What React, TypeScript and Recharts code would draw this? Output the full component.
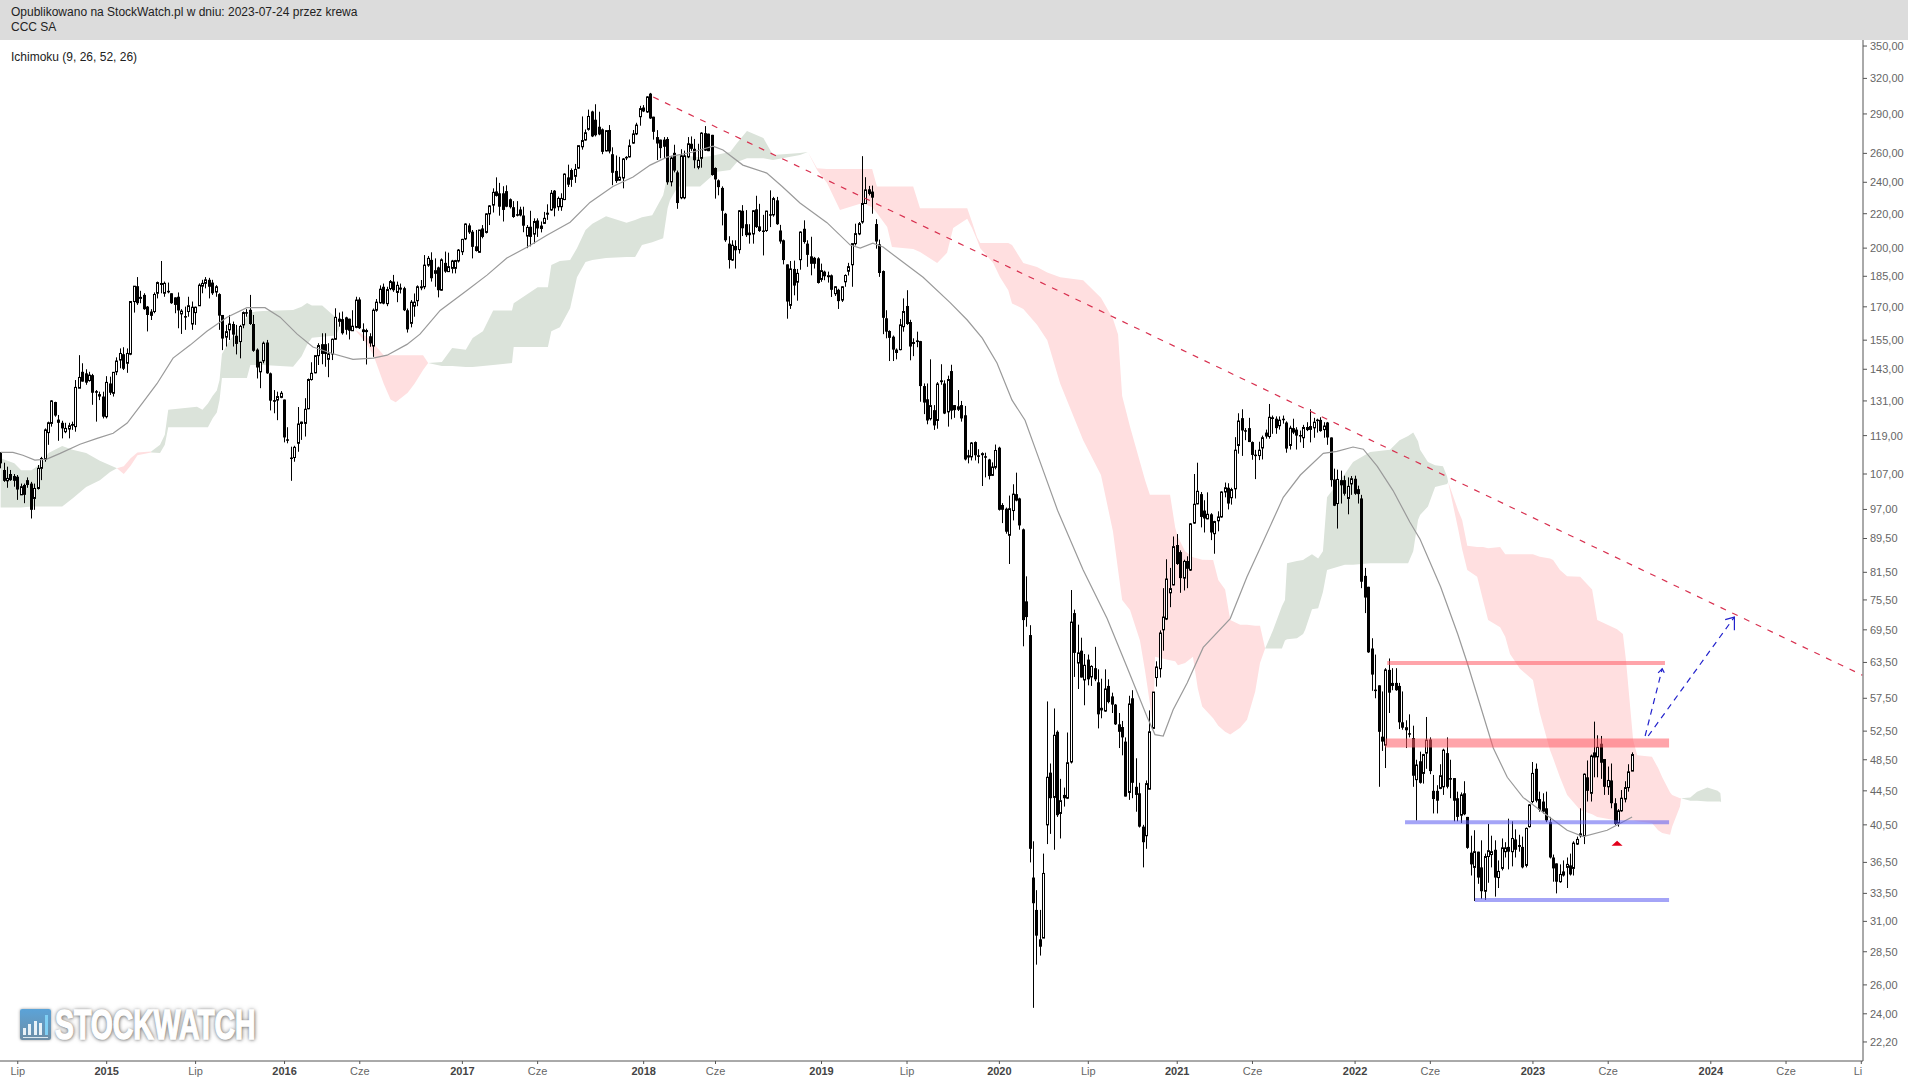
import React from 'react';
import { ComposedChart, Area, Bar, Line, XAxis, YAxis, ReferenceLine, ReferenceDot } from 'recharts';

// weekly candles, [open, high, low, close], first candle = week 0
const candles2014 = [
  [113.7,113.7,108.7,110.2],[108.2,110.4,104.7,105],[105,109.2,103,105.7],[107,108.2,105,105.2],[106.4,107,103.3,105],
  [106.2,106.7,99.6,102.5],[101,104.2,101,103.3],[103.8,104.2,98.7,101],[105.2,106,103,103.8],[104.2,104.7,94.6,96.9],
  [100,104.2,96.9,102.8],[102.8,109.7,102.5,108.7],[108.7,112.2,105.2,111.7],[111.4,121.4,110.7,120.9],[120,123.7,116,123.3],
  [123.1,131.3,122,131],[130.6,130.7,125.4,125.8],[124.4,126,117.3,123.3],[123.3,124,118.1,121.4],[120.3,123.3,119.8,121.4],
  [121.2,123.3,118.1,122.3],[122.9,123.7,120.9,122.3],[122,138.8,120.3,136],[135.7,148.7,135.7,139.8],[142,145.4,138.2,138.2],
  [141.4,143,137,137.8],[138.6,142,138.2,140.7],[140.7,141.2,129.6,134],[134.6,135,123.7,134],[133.5,134.4,131.3,132.6],
  [132.6,134.4,124.8,125.4],
];
const candles2015 = [
  [125.4,140.3,124.8,137.9],[137.5,140.1,133.2,134],[133.8,141.8,132.6,141.8],[142,147.8,140.7,146.3],[146.7,151.5,143.4,149.4],
  [149.1,152,142.7,143.2],[145.4,151.5,141.6,149.4],[149.1,172.5,148.7,172.5],[172.5,180,167.3,180],[180,184.6,170.9,171.7],
  [174.3,177.7,171.7,174.5],[175.7,176.5,168.6,168.9],[170.1,170.4,158.8,166.2],[167.8,168.9,163.9,165.8],[167.8,176.9,167,175.9],
  [176.5,182.3,174,181.8],[181.6,193,176.5,180.6],[176.5,182.3,174.8,181.4],[177.7,181.8,176.5,177.4],[176.5,176.5,171.4,171.7],
  [174.5,174.5,167,170.9],[174.8,176.9,160.2,168.3],[166.7,168.9,157.7,168],[165.7,170.1,159.5,165.1],[167.8,174.8,165.4,170.5],
  [162.1,172.5,159.5,169.8],[167.3,170.1,161.7,169.8],[170.5,181.4,170.5,180.5],[180,183.2,176.5,181.4],[181.4,184.6,178.9,183.2],
  [183.2,184.2,174,179.7],[181.8,183.2,175.7,176.5],[177.1,180.5,174.8,179.7],[176.1,176.5,159.5,165.9],[166.2,166.2,150.8,155.7],
  [156.3,161.7,152.3,158.7],[159.5,166.2,155.1,162.1],[162.1,163.2,152.3,157.4],[156.9,161.7,149,153.4],[154.4,161.7,147.4,161],
  [161.7,167.8,160.2,167.3],[167.5,168.9,165.4,167.3],[168.6,175.7,161.7,162.1],[162.1,166.2,150.1,150.5],[151,151.5,139.4,143.7],
  [142,146,135.7,145.8],[146.4,154.4,145.4,153.7],[154,155.1,141.2,141.4],[141.4,141.7,127.6,131.1],[131.3,135,126.6,130.7],
  [131.3,134.4,124.2,132.6],[132.3,134.6,132,133.8],
];
const candles2016 = [
  [131.5,131.5,116.8,118.4],[117.8,121.8,116.5,117.4],[112,115.4,105,111.6],[112,115.7,110.7,115.2],[116.5,128.8,113.8,122.9],
  [123.7,123.7,117.6,122.9],[123.1,132,118.7,128],[128.2,139.4,128,139],[139,145.8,138.6,141.4],[141.6,148.5,141.4,148.5],
  [148.5,153.7,144.7,152.7],[153.3,158,145,149.2],[153.3,158,144,149.2],[147,153.7,139.9,149.2],[149.2,155.7,146.7,155.4],
  [155.4,169.3,155.1,165.1],[163.3,167.3,160.9,164.3],[164.3,167.8,157.4,158],[165.1,165.4,157.4,159.5],[164.5,164.5,155.3,159.1],
  [159.1,168.4,159.1,161.1],[160.6,174.8,160.2,173.2],[173.5,174.5,159.9,160.2],[159.7,162.4,154.7,158.5],[159.4,160,144.9,158.5],
  [156.7,158,152.2,153.6],[152.5,169.2,148,168.4],[168.4,173.7,167.7,172.2],[171.9,180.4,171.5,178.5],[179.7,181.3,171.2,171.5],
  [171.5,179.7,170.3,178.3],[178.8,183.1,178,182.3],[182.3,185.7,177.2,178],[176.9,182.3,172.2,180.4],[179.3,181.3,176.4,178.3],
  [179,179.7,168,168.4],[168.4,169.2,158.3,159.7],[162.4,173.2,160.6,172.2],[170.3,176.4,165.4,172.2],[172.9,180.4,170.3,179.7],
  [179.4,183.1,178,179.7],[179.7,196.2,178.5,190.8],[190.8,195.7,189.9,194.4],[193.6,197.7,182.3,184],[186.5,194.4,179.7,187.9],
  [189.6,190,174.5,178],[178,194.4,177.7,193.6],[192,198.1,186.8,187.4],[187.4,197.5,187.2,190],[189.1,193.6,186.5,193],
  [189.1,193.6,186.5,193.2],[193,199.5,192.2,198.9],
];
const candles2017 = [
  [198,205.2,196.2,204.9],[205.2,214.2,204.5,213.8],[213,214.2,208,208.9],[209.3,210.3,194.4,200.7],[201,210.3,198.1,198.4],
  [197.7,210.3,197.5,210.3],[211.2,213.2,205.5,206.3],[208.9,220.3,208.3,219.9],[219.9,225.3,213.2,224.8],[225.3,236,220.7,233.4],
  [234,243.3,230.7,231.1],[232.8,239.6,218.8,224.3],[232.8,237.4,215.3,222.3],[234.2,238,224,224.3],[229,229.5,223.2,224],
  [224,227.8,217.5,218],[219.7,227.8,218.4,219.3],[222.6,224.3,218.4,218.9],[218.9,224.3,209,212.8],[206.8,213.2,200,211.8],
  [212.2,221.8,201,206.3],[207.9,217.2,202.6,215.3],[215.9,217.2,206.3,211.2],[211.2,215.3,208.9,212.6],[214.2,221.1,213.8,217.2],
  [220,225.8,216.3,220.3],[222.3,234.9,221.8,232.8],[234.5,234.9,218.4,223.3],[224.3,230.7,221.8,229.5],[224.3,232.8,221.8,229.5],
  [228.8,246,228.4,245.5],[243.3,252,236.9,238.4],[248.3,249.4,237,241.6],[244,252.5,239.6,248.7],[249.6,265.6,249,265.6],
  [264.8,288,262.7,269.4],[269.8,277.8,269.3,275.3],[277.9,293.5,276.9,288],[292,292.6,272,272.5],[285.4,297.9,272.5,273.4],
  [279.9,291.8,273.4,274],[277.9,278.6,259.4,261.1],[261.8,276.9,261.4,276.9],[277.4,281.2,260,261.4],[259.4,264.4,238.1,246.4],
  [247.7,258.5,239.6,240.8],[241.4,257.5,241,243.4],[242.9,256.6,236,256],[257.5,258,255.2,256.6],[257.5,270.2,257,265.5],
  [267.5,277.4,267,274.4],[274.4,283,273.5,281.2],[287.8,296.6,280.7,294.3],
];
const candles2018 = [
  [295.2,297.2,291.5,292],[291.6,304.6,290.9,304],[306.8,307.4,286,286.4],[287.8,287.8,270.1,276],[272,277.3,255.3,267.2],
  [270.1,270.1,256.5,263.8],[270.1,272,256.5,264.8],[270.6,272,238.4,240],[240.3,258.2,237.3,256.6],[260.4,266.3,246.7,247.9],
  [246.7,247.9,223,226.6],[229.9,263,229,258.2],[229.9,262,229,258.2],[257.5,272,256.6,267],[267,272.5,261.8,263.3],
  [263.3,270.6,249.5,255.1],[250.2,267,248.8,255.1],[256.5,275.7,249.9,275],[275,280.4,261.8,262],[274.6,274.6,261.6,261.6],
  [273.7,273.7,244.4,244.9],[249.7,250.1,229.4,241.9],[241.3,241.9,231.5,236.8],[236.3,237.3,213,221.8],[220,220.5,203.5,204.4],
  [202.5,206.7,189,193.5],[193.5,204.4,193,201.6],[201.2,204.4,189,198.8],[199.2,222.2,197,221.8],[221.8,225.3,206.8,211.3],
  [213.7,222.2,206.3,207.3],[208.8,213.7,202.5,207.3],[208,222.2,202.5,221.8],[222.7,231.2,211.5,212],[212.4,226.1,209.2,209.7],
  [210,219.3,196,209.7],[210,221.8,209.2,221.6],[219.7,234.7,212,219.3],[219.3,230.5,218.2,229.4],[228.3,230.5,213.3,213.7],
  [210,213.3,202.5,203.7],[204.4,204.8,191.2,193.5],[191.2,191.2,164.5,172.5],[170.7,193,169,188.8],[188.8,193.2,175.5,180.3],
  [182,188.8,172.9,186.5],[193.7,209.5,188.4,209.1],[211,216,202.5,203.4],[202.5,204.4,189.9,196.3],[195.5,206.4,185.5,191.5],
  [194.7,195.2,189,191.5],[194.4,195,181.3,181.6],
];
const candles2019 = [
  [183.4,191.6,182.2,187.9],[187.4,187.9,183,185],[185,187.4,181.8,185.3],[185.5,185.9,174.7,178.2],[176.3,180,175.2,179.7],
  [178.2,178.7,169,172.7],[173.2,180,172.3,179.7],[182.2,186,179.7,185.4],[187.6,192,185.4,190],[191,202.5,179.7,202.5],
  [202.5,214,201.5,208.2],[208,215,207.3,214],[215,258,214,226.3],[226.3,243.4,226,235],[235.4,237.6,231.4,232.4],
  [233.9,237.8,220,230],[213.8,216.7,199.7,203.7],[202.1,204.8,184.7,186.7],[187.7,188,157.6,164.9],[164.7,168.4,155.8,158.7],
  [159,159.3,146.3,156],[156.5,157,146.3,151],[151,151.5,147,149.6],[151,164.4,150.7,161.7],[160.9,174,158.7,167.8],
  [170.4,178,161.7,162.1],[163,164,146.6,152.3],[154.2,155.8,148.3,153.4],[154.9,158.7,152,154.2],[154.6,154.7,130.7,136.5],
  [136.5,137.5,126.3,130.4],[131.6,137.5,122.8,124.1],[124.7,147,124.1,129.3],[127.7,129.5,120.9,122.4],[124.1,138,121.3,137.3],
  [138.7,145,137,138],[137.5,138.7,126.3,126.5],[127.1,140.5,122,139],[142.3,144.8,124.5,127.5],[129.5,129.5,125,127.7],
  [128,135,127.4,128.9],[129.5,131,123.7,124.8],[125.9,129.2,111.1,111.4],[112.7,114.4,110.2,112],[112.2,116.9,111.1,116.6],
  [116.9,117.1,111.1,112.7],[112.7,114.6,110.2,112.2],[113,113.6,103.5,113.2],[112.4,113.5,106,112],[111.4,111.6,105.4,106.4],
  [106.6,110.5,106.4,109.1],[109,116.1,108.4,114.2],
];
const candles2020 = [
  [115.1,115.4,96.7,96.9],[98.2,98.7,93.4,96.9],[97.2,97.5,90.7,91.2],[90.3,100.8,83.4,97.2],[96.7,104,94.1,101.2],
  [101.2,107.4,99.2,99.4],[100,100.2,91.7,92.8],[91.8,92,66.4,71.4],[75.2,80.6,70.1,72],[68.5,70.4,36.5,37.9],
  [35,38.7,24.4,32.6],[32,33.8,27.5,29.8],[29.5,32,28.2,28.9],[29.6,37.4,29.6,35.4],[40.5,57,38.4,46.2],
  [46.8,48,39.5,43.6],[43.7,55.9,37.8,51.9],[52.4,52.6,41.4,41.6],[41.8,46,39,43.3],[44,44.9,42.6,43.6],
  [43.6,52.3,43.5,48.1],[48.2,77.6,48,71],[72.8,73.5,61,65.2],[63.4,70.5,59,65.2],[65.6,68,60.9,60.9],
  [60.5,65,56.4,63],[64,64.9,59.6,60.6],[61,63,59.5,62.8],[62.5,66.3,60.3,60.6],[60.1,62.3,52.9,55],
  [56,60.7,54.4,55.6],[55.5,62.3,55.4,59],[59.5,60.6,56.7,56.9],[57.8,58.4,55.2,56.5],[56.5,56.6,53.4,53.5],
  [53.5,55.2,50.1,52.4],[53.1,54,49.1,51.6],[51,51.6,43.8,43.8],[44.3,57.9,43.4,56.6],[57.5,58.8,43.6,45.5],
  [45,48.7,42,44],[44.2,45.5,40.2,40.3],[40.3,40.5,36,38.6],[39.3,45.8,37.9,45.4],[44.7,55.6,44.7,52.4],
  [52.9,58.5,52.9,58.5],[60.9,63.7,59.4,62.7],[62.4,69.4,60.9,68.9],[69.5,78,65.6,72],[71.6,84.5,71.4,80],
  [77,82.5,74,77.9],[78.7,90,78.6,87.5],
];
const candles2021 = [
  [87.9,90.6,83.2,83.4],[86.2,86.6,77,80.2],[80.2,84.4,77.5,84],[84.1,85.2,78,82.3],[82,93.4,81.8,93.2],
  [93.4,107,93.2,98.4],[98.5,110.4,98.4,102],[101.2,101.8,92.3,95],[96.7,99.5,91,94.6],[94.5,101.7,94.4,95.7],
  [95.7,96,89.1,91],[90.7,94,85.8,93.8],[94,96.5,91.3,95],[95,102,94.8,101.8],[101.8,104.5,100.3,103],
  [103,104.3,97,98.6],[100.2,103,98.3,102.5],[102.7,118.5,100,114.3],[115.8,126.6,113.2,123.9],[124.9,128,112.5,120.7],
  [120.8,121.5,117.5,120.5],[121.5,125,116.9,116.9],[116.9,117.1,111.3,112.8],[112.9,114.4,105.5,112.5],[112.6,117,111.2,114.3],
  [115,119,111.4,118.3],[120,121,118,118.7],[118.7,129.9,118,125.2],[125.2,125.8,119.6,124.6],[124.7,125.5,119.6,121.5],
  [122.3,125.5,121,124.2],[124.7,125.8,123,124.2],[123.4,123.8,113.5,114.8],[115.8,122.3,114.5,121.5],[121.5,124.7,119.5,120],
  [121,121.8,114.5,119],[119.2,120.7,116.8,118.8],[118.3,122.6,115,121.7],[121,123.5,120.5,121.7],[122.2,128,116.8,120.9],
  [121.6,125,118.3,123.5],[124.4,124.7,120,124.2],[124.3,125.2,120.3,120.5],[121,123.5,118.3,122.2],[123.4,123.6,116,118.4],
  [118.4,118.4,103.3,105.2],[105.4,108.6,97.9,98],[98.6,108.3,92,105.4],[105.2,108,98.6,103.7],[105.2,106.5,100.8,101.3],
  [100,106,95.7,103.4],[104.1,106.4,101,105.6],
];
const candles2022 = [
  [105.6,106.5,101,101.3],[102.6,103.6,98.6,101.2],[100,101,78,79.4],[80.7,82.5,72.8,76],[78.3,78.3,65.2,65.3],
  [66,67.9,58.7,61.4],[58.9,64.9,57.5,58.8],[59.6,59.6,45,52.4],[51.7,58.6,49.7,51],[50.5,62.5,47.4,62.2],
  [62.2,64.2,55.2,58.4],[60,62.5,58.8,59.5],[60,62.5,58.7,58.8],[59.5,60,52.8,53.8],[53.8,58.6,52.7,53],
  [52.7,54.1,50.1,53],[52.2,55,51.6,52],[51.5,53.3,45,46.4],[45.9,48.5,41,47.8],[48.3,49.6,45.4,45.5],
  [46.7,49.3,45.4,49.2],[49.4,54.6,47.3,51.2],[51.3,51.6,46.6,47],[44.5,46.5,41.8,43.5],[44.5,45.2,41.8,43.3],
  [44.8,47.9,44.7,46.4],[45,50,44,49.8],[49.4,51.6,44.8,45],[46.1,48.5,43.6,45.9],[46.1,46.1,40.9,43.3],
  [43.6,44.4,40.9,41.4],[41.6,44.3,40.7,44],[44.2,45.7,41.6,41.7],[41.4,41.4,37.9,38],[37.5,39.3,35.2,36.3],
  [36,39.9,32.8,37.6],[37.6,37.6,34.4,35],[36,38.8,33,33.7],[33.7,37.4,32.9,37.1],[37.1,40.6,34.5,37.7],
  [37.3,39.3,36,37.6],[37.8,38.8,33.2,35],[35,36.7,34,35.6],[35.9,39,35.7,38],[37.6,38.6,37,38],
  [38.1,41.2,35.8,37.6],[37.6,40.9,36.1,39],[38.9,40,37,37.8],[38.3,39.4,37.6,38.1],[38.1,39.2,35.9,36],
  [36.2,40.2,36,40.1],[40.3,42.9,40.2,42.8],
];
const candles2023 = [
  [43.2,48.2,43,46.7],[47.3,48,43.1,43.3],[43.5,44.4,42,42.2],[43.2,44.2,41.8,42],[42.4,44.4,40.8,41],
  [40.8,41.4,36.9,37],[37,37.3,34.6,35.9],[36.4,36.4,33.5,34.6],[34.6,36.3,34.5,35.3],[35.6,36.7,35.1,35.2],
  [36,37,34,36.3],[36.2,37.4,35.2,35.3],[35.9,38.7,35.2,38.5],[38.4,39.2,38.3,38.9],[39.3,42.4,39.1,39.5],
  [39.3,46.7,38.4,46.6],[46.2,48.4,43.2,44.5],[44.2,49.2,43.2,49],[49.5,53.9,46.2,48.8],[48.9,51.9,46.2,50.2],
  [50.7,51.8,46,48.1],[48.6,48.6,44,45],[45,47.6,44,45.8],[45.8,48,42.4,43],[43,43.6,40.5,40.6],
  [40.7,42.3,40.3,42.1],[42.1,44.6,42,43.6],[43.5,45.7,43.1,44.9],[44.9,47.9,44.4,46.9],[47,49.5,47,49.2],
];

// ichimoku cloud, read edge by edge
const greenWeeks1 = [0,4,6,9,12,14,18,21,25,29,32,34];
const greenLow1 = [97.5,97.5,97.5,97.8,97.8,97.8,97.8,100,103.2,105.2,107.6,108.7];
const greenHigh1 = [111.8,110.2,108.1,108.1,110.2,113.4,115.6,114.4,113.4,111,109.6,108.7];

const pinkWeeks1 = [34,36,38,40,44];
const pinkLow1 = [108.7,107,109.5,112.7,113.6];
const pinkHigh1 = [108.7,109.3,111.8,113.6,113.9];

const greenWeeks2 = [44,46.6,48,49,57.4,59,60.6,62,63.2,64,64.7,67,72,73,76.7,85.5,88,89.6,91,94,98,99];
const greenLow2 = [113.6,113.4,116,121.8,121.8,121.8,121.8,124.9,126.9,131.3,139.6,139.6,139.6,144.7,144.7,144,148.3,153,156,156.5,157,160];
const greenHigh2 = [113.9,116,119.3,127.8,128.9,127.8,130.1,132.9,134.8,138.8,149.2,155,165.4,167.5,168,168.5,170,171.8,170.6,170.6,165,160];

const pinkWeeks2 = [99,103.6,107,109,112,114,115.5,119,121,123.5,125];
const pinkLow2 = [160,159.5,153.6,148.7,137.4,131.5,130.5,134,137.4,142.7,145.5];
const pinkHigh2 = [160,159.5,156.5,153.6,148.7,148.7,148.7,148.7,148.7,148.7,145.5];

const greenWeeks3 = [125,129,132,136,138,141,144,149.5,150,157,160,161,163.5,166.5,168.5,171,173,177,183,185.5,187.5,190.5,193.7,195,195.7,198,204.5,207.4,209,213.3,215.3,218.2,223,225.8,233.7,236];
const greenLow3 = [145.5,144.3,144.3,143.9,143.9,144.3,144.7,145.5,152.1,152.1,152.1,158.9,160.6,169.3,184.5,192.4,193.5,194.6,195.1,195.1,201.7,203.3,205.6,223.4,228.4,237.2,237.2,243,247,248.3,253.8,256.6,256.6,255.2,258.8,261];
const greenHigh3 = [145.5,145.9,151.7,150.9,155.9,158.9,168.3,168.3,171.7,179.5,179.5,190.9,193,193.5,200,210.3,214,218.5,214.6,216.2,217.9,219.1,231.6,244.8,257.3,258.8,257.3,258,258.8,261,267.5,276.6,271.3,258.8,260.2,261];

const pinkWeeks3 = [236,238.7,241.6,245.4,252,254.8,256.2,259.2,260.6,266.8,268.8,273.8,276.7,278.5,282.6,284,285.5,286.4,290.2,292.2,294.6,295.7,299,303,306,309.8,316.5,321.7,325.2,326.7,327.9,330.2,333.1,334.6,336,337,337.5,341.9,343.4,344.2,346.3,348.6,350,351.3,354.5,356,358,359.5,362.4,364.4,366.8,368.2,369.7];
const pinkLow3 = [261,248.3,239.5,222.2,226.6,224,220.4,212,200.6,199.5,197.9,191.9,197.4,211.4,216.9,211.4,204.5,200,191.9,184.5,178,171.6,169,161.8,155,137.4,117.5,106.7,91.3,82,75.5,73.4,67.5,62,56.7,53,64.5,63.9,63.7,63,63.4,64.5,59.1,56.2,54.4,53.3,52.4,52,53,54.2,58.6,63.4,66];
const pinkHigh3 = [261,249.5,249,249,249,249,237.2,237.2,237.2,237.2,223.4,223.4,223.4,223.4,223.4,215,206,202.8,202.8,202.8,202.8,201.7,191.9,189.8,187,184.5,183,174.3,164.5,157.5,132.8,122,110.6,105.2,101,101,101,101,92.3,89.9,86.4,85,84.7,84.4,84.3,79.8,77.7,71.4,70.5,70.5,70.3,70.3,66];

const greenWeeks4 = [369.7,372,374.6,375.5,376.1,379,380.8,381.4,383.4,385.2,386.6,387.8,393,395.4,400.4,406.2,409,411.5,413,414.4,415,417.3,419.4,421.7,422.9,423.2];
const greenLow4 = [66,66,66,67.5,67.7,67.9,68.7,69.5,73.6,73.8,77.2,82,83.2,83.2,83.6,83.6,83.6,83.6,86.4,94.2,95.5,97.8,103.2,103.8,104.1,104.7];
const greenHigh4 = [66,69.4,74.2,75.5,83.6,84.1,84.3,84.7,85.7,84.7,86.4,100.3,107,110.6,113.7,114.4,117.5,118.9,120,117.2,114.4,110.6,109.6,109.3,106.3,104.7];

const pinkWeeks4 = [423.2,426.1,427.3,428.8,431.7,433.4,434.9,438.4,439.9,441.3,444.2,448,450,453,453.9,455.9,458,461.8,465.3,466.8,472.6,474.3,475.2,477.3,478.5,482.8,484.6,485.8,488.1,488.7,491,491.3];
const pinkLow4 = [104.7,92,86.9,82,80.5,75.5,71.4,70,68.2,65,62.4,60.5,55.2,49.8,48.7,46.2,44,42.2,41.7,41.4,41,41,41,41,40.9,40.7,39.9,39.6,39.4,40.3,42.6,43.6];
const pinkHigh4 = [104.7,96.8,94.2,87.7,87.4,87.4,87.1,87.4,85.7,85.7,85.7,85.7,85.1,84.7,84.3,82,80.6,80.5,77.7,71.4,69.6,68.7,63.9,51.2,49.1,48.9,47.4,46.2,44.3,44,43.6,43.6];

const greenWeeks5 = [491.3,494,496,499,502,502.8,503];
const greenLow5 = [43.6,43.3,43.3,43.2,43.2,43.2,43.1];
const greenHigh5 = [43.6,43.7,44.4,44.9,44.5,44.2,43.3];

// moving average
const smaWeeks = [0,3.6,6.5,10,13.5,17.4,23.2,28.2,32.9,37,41.6,45.7,50.4,55.4,60.3,66.2,72,77.3,81.7,86.7,91.3,97.2,103,108.9,113,118.8,122.6,128.5,136.4,142.2,148,154,159.7,166.5,172.3,179,184.9,189.9,194.8,202.4,208.3,211.2,217,224,228.5,233.7,241.6,248.4,251.3,255,258,263,269.7,277.6,282.6,287,291.3,295.7,299.5,303,309,316.5,323.5,329.3,335.2,337.5,339.9,342.8,346.9,351.6,359.5,364.4,369,375,380,386.7,390.7,395.4,398.4,402.5,407.1,412,415,421,426,428.8,436.4,440.5,445.1,451,458,462.7,469.7,477];
const smaValues = [113.6,113.6,112.7,111.2,111.5,113.3,116.2,118.1,119.8,123.2,130.5,137.4,147.5,152.9,158.9,165.2,169.6,169.6,165.2,157.6,152.1,149.3,147,147.5,148.7,153.2,157.6,168.3,178,185.6,194.6,200.6,207.3,214.9,227,237.2,243.5,251.7,257.3,261,265.3,262.5,251.7,246.2,237.2,226.6,214.6,201.7,200,202.8,200.6,193.5,184.5,172,163.9,155.9,145.5,131.3,124.2,113.3,96.8,82,71.7,62.7,54.6,52,51.8,55.7,60,66.2,71.7,80.5,88.5,100.3,106.7,113.3,113.9,115.3,114.6,109.3,102.2,93.7,89.3,78.3,68.7,63.4,50.1,46.2,43.7,41.9,39.9,39.2,39.9,41.4];

// drawn on top of the chart by the author
const trendWeeks = [190.8,544.3];
const trendValues = [303.9,61.3];
const arrowShortWeeks = [480.8,485.8];
const arrowShortValues = [51.8,62.4];
const arrowShortHeadWeeks = [484.6,485.8,486.4];
const arrowShortHeadValues = [61.7,62.4,61.7];
const arrowLongWeeks = [481.7,506.9];
const arrowLongValues = [51.8,72];
const arrowLongHeadWeeks = [504.2,506.9,506.9];
const arrowLongHeadValues = [71.5,72,69.4];

const tickWeeks = [5,31,57,83,105,135,157,188,209,240,265,292,318,344,366,396,418,448,470,500,522,544];
const tickLabels = ['Lip','2015','Lip','2016','Cze','2017','Cze','2018','Cze','2019','Lip','2020','Lip','2021','Cze','2022','Cze','2023','Cze','2024','Cze','Li'];
const priceTicks = [350,320,290,260,240,220,200,185,170,155,143,131,119,107,97,89.5,81.5,75.5,69.5,63.5,57.5,52.5,48.5,44.5,40.5,36.5,33.5,31,28.5,26,24,22.2];

const FONT = '"Liberation Sans", Arial, sans-serif';
const GREEN = '#dbe3da';
const PINK = '#ffdfe0';

const candleRows = [
  ...candles2014, ...candles2015, ...candles2016, ...candles2017, ...candles2018,
  ...candles2019, ...candles2020, ...candles2021, ...candles2022, ...candles2023,
].map(([o, h, l, c], w) => ({ w, o, h, l, c, range: [l, h] }));

const cloud = (weeks: number[], low: number[], high: number[]) =>
  weeks.map((w, i) => ({ w, range: [low[i], high[i]] }));
const path = (weeks: number[], values: number[]) =>
  weeks.map((w, i) => ({ w, v: values[i] }));

const clouds = [
  { key: 'g1', fill: GREEN, data: cloud(greenWeeks1, greenLow1, greenHigh1) },
  { key: 'p1', fill: PINK, data: cloud(pinkWeeks1, pinkLow1, pinkHigh1) },
  { key: 'g2', fill: GREEN, data: cloud(greenWeeks2, greenLow2, greenHigh2) },
  { key: 'p2', fill: PINK, data: cloud(pinkWeeks2, pinkLow2, pinkHigh2) },
  { key: 'g3', fill: GREEN, data: cloud(greenWeeks3, greenLow3, greenHigh3) },
  { key: 'p3', fill: PINK, data: cloud(pinkWeeks3, pinkLow3, pinkHigh3) },
  { key: 'g4', fill: GREEN, data: cloud(greenWeeks4, greenLow4, greenHigh4) },
  { key: 'p4', fill: PINK, data: cloud(pinkWeeks4, pinkLow4, pinkHigh4) },
  { key: 'g5', fill: GREEN, data: cloud(greenWeeks5, greenLow5, greenHigh5) },
];

const Candle = (props: any) => {
  const { x, y, width, height, payload } = props;
  const { o, h, l, c } = payload;
  const cx = Math.floor(x + width / 2) + 0.5;
  // log axis, so body position goes by log ratio inside the high-low span
  const span = Math.log(h) - Math.log(l) || 1;
  const py = (v: number) => y + (height * (Math.log(h) - Math.log(v))) / span;
  const top = py(Math.max(o, c));
  const bottom = py(Math.min(o, c));
  const up = c >= o;
  return (
    <g>
      <line x1={cx} x2={cx} y1={y} y2={y + height} stroke="#000" strokeWidth={1} />
      {up ? (
        <rect x={cx - 1} y={top} width={2} height={Math.max(bottom - top, 1)} fill="#fff" stroke="#000" strokeWidth={1} />
      ) : (
        <rect x={cx - 1.5} y={top} width={3} height={Math.max(bottom - top, 1.5)} fill="#000" />
      )}
    </g>
  );
};

const TimeTick = (props: any) => {
  const { x, y, payload } = props;
  const label = tickLabels[tickWeeks.indexOf(payload.value)];
  const isYear = /^\d+$/.test(label);
  const isLast = label === 'Li';
  return (
    <text
      x={isLast ? x + 1 : x}
      y={y + 9}
      textAnchor={isLast ? 'end' : 'middle'}
      fontFamily={FONT}
      fontSize={11}
      fontWeight={isYear ? 700 : 400}
      fill={isYear ? '#444' : '#666'}
    >
      {label}
    </text>
  );
};

const Triangle = (props: any) => {
  const { cx, cy } = props;
  return <path d={`M${cx - 5.5} ${cy + 2.5}L${cx} ${cy - 2.5}L${cx + 5.5} ${cy + 2.5}Z`} fill="#e2001a" />;
};

const logoBars = [7, 11, 14, 12, 20];

export default function App() {
  return (
    <div style={{ position: 'absolute', left: 0, top: 0, width: 1908, height: 1080, background: '#fff', overflow: 'hidden', fontFamily: FONT }}>
      <ComposedChart width={1908} height={1080} data={candleRows} margin={{ top: 40, right: 0, bottom: 0, left: 0 }}>
        <XAxis
          dataKey="w"
          type="number"
          scale="linear"
          domain={[-0.19, 544.5]}
          allowDataOverflow
          ticks={tickWeeks}
          interval={0}
          height={19}
          stroke="#555"
          tickSize={3}
          tick={<TimeTick />}
        />
        <YAxis
          orientation="right"
          scale="log"
          domain={[21.06, 355.9]}
          allowDataOverflow
          ticks={priceTicks}
          interval={0}
          width={45}
          stroke="#555"
          tickSize={4}
          tickMargin={3}
          tick={{ fontSize: 11, fill: '#666', fontFamily: FONT }}
          tickFormatter={(v: number) => v.toFixed(2).replace('.', ',')}
        />
        {clouds.map((s) => (
          <Area
            key={s.key}
            data={s.data}
            dataKey="range"
            type="linear"
            stroke="none"
            fill={s.fill}
            fillOpacity={1}
            dot={false}
            activeDot={false}
            isAnimationActive={false}
          />
        ))}
        <Line data={path(smaWeeks, smaValues)} dataKey="v" type="linear" stroke="#9a9a9a" strokeWidth={1.2} dot={false} activeDot={false} isAnimationActive={false} />
        <Bar dataKey="range" barSize={3} shape={<Candle />} isAnimationActive={false} />
        <Line data={path(trendWeeks, trendValues)} dataKey="v" type="linear" stroke="#d8304f" strokeWidth={1.2} strokeDasharray="6 7" dot={false} activeDot={false} isAnimationActive={false} />
        <Line data={path(arrowShortWeeks, arrowShortValues)} dataKey="v" type="linear" stroke="#2222cc" strokeWidth={1.2} strokeDasharray="6 5" dot={false} activeDot={false} isAnimationActive={false} />
        <Line data={path(arrowShortHeadWeeks, arrowShortHeadValues)} dataKey="v" type="linear" stroke="#2222cc" strokeWidth={1.2} dot={false} activeDot={false} isAnimationActive={false} />
        <Line data={path(arrowLongWeeks, arrowLongValues)} dataKey="v" type="linear" stroke="#2222cc" strokeWidth={1.2} strokeDasharray="6 5" dot={false} activeDot={false} isAnimationActive={false} />
        <Line data={path(arrowLongHeadWeeks, arrowLongHeadValues)} dataKey="v" type="linear" stroke="#2222cc" strokeWidth={1.2} dot={false} activeDot={false} isAnimationActive={false} />
        <ReferenceLine segment={[{ x: 405.4, y: 63.4 }, { x: 486.6, y: 63.4 }]} stroke="#ff5a64" strokeOpacity={0.55} strokeWidth={4} />
        <ReferenceLine segment={[{ x: 404.8, y: 50.8 }, { x: 487.8, y: 50.8 }]} stroke="#ff5a64" strokeOpacity={0.55} strokeWidth={9} />
        <ReferenceLine segment={[{ x: 410.6, y: 40.8 }, { x: 487.8, y: 40.8 }]} stroke="#5a5af0" strokeOpacity={0.55} strokeWidth={4} />
        <ReferenceLine segment={[{ x: 431, y: 32.9 }, { x: 487.8, y: 32.9 }]} stroke="#5a5af0" strokeOpacity={0.55} strokeWidth={4} />
        <ReferenceDot x={472.6} y={38.5} r={0} shape={<Triangle />} />
      </ComposedChart>

      <div style={{ position: 'absolute', left: 0, top: 0, width: 1908, height: 40, background: '#dcdcdc', color: '#222', fontSize: 12, lineHeight: '15px' }}>
        <div style={{ position: 'absolute', left: 11, top: 5 }}>Opublikowano na StockWatch.pl w dniu: 2023-07-24 przez krewa</div>
        <div style={{ position: 'absolute', left: 11, top: 20 }}>CCC SA</div>
      </div>
      <div style={{ position: 'absolute', left: 11, top: 50, fontSize: 12, lineHeight: '15px', color: '#222' }}>Ichimoku (9, 26, 52, 26)</div>

      <div style={{ position: 'absolute', left: 20, top: 1009, width: 31, height: 31, borderRadius: 2, background: 'linear-gradient(#5ba3d8, #6d8ea6)', boxShadow: '0 0 3px #999' }}>
        {logoBars.map((h, i) => (
          <div key={i} style={{ position: 'absolute', left: 3 + i * 5.4, bottom: 5, width: 3, height: h, background: i === 4 ? '#7fd0f5' : '#e8f2f8' }} />
        ))}
        <div style={{ position: 'absolute', left: 3, right: 3, bottom: 2, height: 1, background: '#dbe8f0' }} />
      </div>
      <div
        style={{
          position: 'absolute', left: 55, top: 1001, height: 48, lineHeight: '48px', fontSize: 42, fontWeight: 700,
          color: '#fff', whiteSpace: 'nowrap', WebkitTextStroke: '1.5px #fff',
          textShadow: '0 0 6px #777, 1px 1px 4px #888, 0 0 2px #999', transform: 'scaleX(0.675)', transformOrigin: '0 50%',
        }}
      >
        STOCKWATCH
      </div>
    </div>
  );
}
